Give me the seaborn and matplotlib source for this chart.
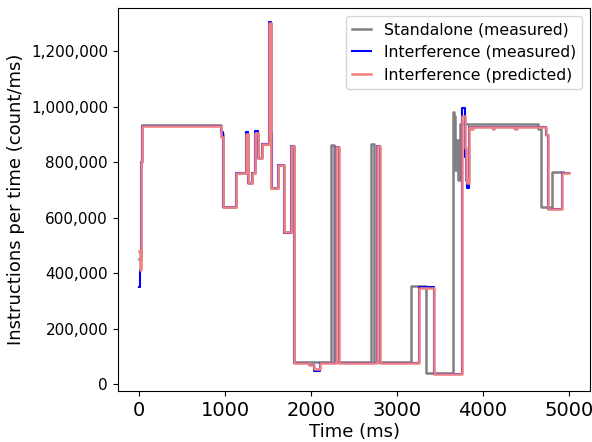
import matplotlib
matplotlib.use("Agg")
import matplotlib.pyplot as plt
import matplotlib.ticker as mticker
import seaborn as sns
import numpy as np

# step change points (time in ms, instructions per ms)
standalone_t = [0, 15, 30, 946, 977, 1121, 1238, 1265, 1312, 1350, 1382, 1433, 1510, 1530,
                1620, 1686, 1764, 1803, 2231, 2270, 2698, 2737, 3165, 3340, 3652, 3668,
                3680, 3695, 3712, 3730, 4645, 4672, 4800, 4937]
standalone_v = [450000, 800000, 935000, 900000, 639000, 762000, 902000, 724000, 762000, 902000,
                814000, 865000, 1300000, 707000, 789000, 549000, 858000, 80000, 860000, 80000,
                864000, 80000, 353000, 42000, 980000, 965000, 770000, 880000, 735000, 937000,
                918000, 639000, 765000, 765000]

measured_t = [0, 8, 15, 30, 946, 977, 1121, 1238, 1265, 1312, 1350, 1382, 1433, 1510, 1530,
              1540, 1620, 1686, 1764, 1803, 1975, 2035, 2100, 2290, 2328, 2765, 2807, 3251,
              3426, 3757, 3790, 3805, 3820, 3835, 3866, 3880, 4120, 4135, 4380, 4395, 4734,
              4762, 4917, 5000]
measured_v = [350000, 410000, 800000, 930000, 909000, 639000, 760000, 910000, 724000, 762000,
              912000, 814000, 865000, 1305000, 905000, 707000, 789000, 544000, 858000, 76000,
              68000, 48000, 76000, 853000, 76000, 859000, 76000, 351000, 38000, 993000,
              819000, 735000, 706000, 925000, 918000, 928000, 920000, 928000, 920000, 928000,
              897000, 630000, 759000, 759000]

predicted_t = [0, 8, 15, 30, 946, 977, 1121, 1238, 1265, 1312, 1350, 1382, 1433, 1510, 1530,
               1620, 1686, 1764, 1803, 1975, 2035, 2100, 2290, 2328, 2765, 2807, 3251, 3426,
               3757, 3790, 3805, 3820, 3835, 3866, 3880, 4120, 4135, 4380, 4395, 4734, 4762,
               4917, 5000]
predicted_v = [480000, 410000, 800000, 930000, 890000, 639000, 760000, 900000, 724000, 762000,
               905000, 814000, 865000, 1300000, 707000, 789000, 549000, 858000, 76000, 68000,
               55000, 76000, 853000, 76000, 859000, 76000, 345000, 38000, 965000, 850000,
               740000, 725000, 925000, 918000, 928000, 920000, 928000, 920000, 928000, 897000,
               630000, 759000, 759000]

fig = plt.figure(figsize=(5.92, 4.42), dpi=100)
ax = fig.add_axes([0.199, 0.115, 0.798, 0.867])

sns.lineplot(x=standalone_t, y=standalone_v, ax=ax, color="gray", lw=1.8,
             drawstyle="steps-post", estimator=None, sort=False, label="Standalone (measured)")
sns.lineplot(x=measured_t, y=measured_v, ax=ax, color="blue", lw=1.5,
             drawstyle="steps-post", estimator=None, sort=False, label="Interference (measured)")
sns.lineplot(x=predicted_t, y=predicted_v, ax=ax, color="lightcoral", lw=1.8,
             drawstyle="steps-post", estimator=None, sort=False, label="Interference (predicted)")

ax.set_xlim(-250, 5250)
ax.set_ylim(-25000, 1355000)
ax.set_xticks([0, 1000, 2000, 3000, 4000, 5000])
ax.set_yticks(np.arange(0, 1200001, 200000))
ax.yaxis.set_major_formatter(mticker.StrMethodFormatter("{x:,.0f}"))
ax.tick_params(axis="x", labelsize=14)
ax.tick_params(axis="y", labelsize=11)
ax.set_xlabel("Time (ms)", fontsize=13, labelpad=2)
ax.set_ylabel("Instructions per time (count/ms)", fontsize=13)
ax.legend(loc="upper right", fontsize=11.3, handlelength=1.2)

fig.savefig("out.png", dpi=100)
